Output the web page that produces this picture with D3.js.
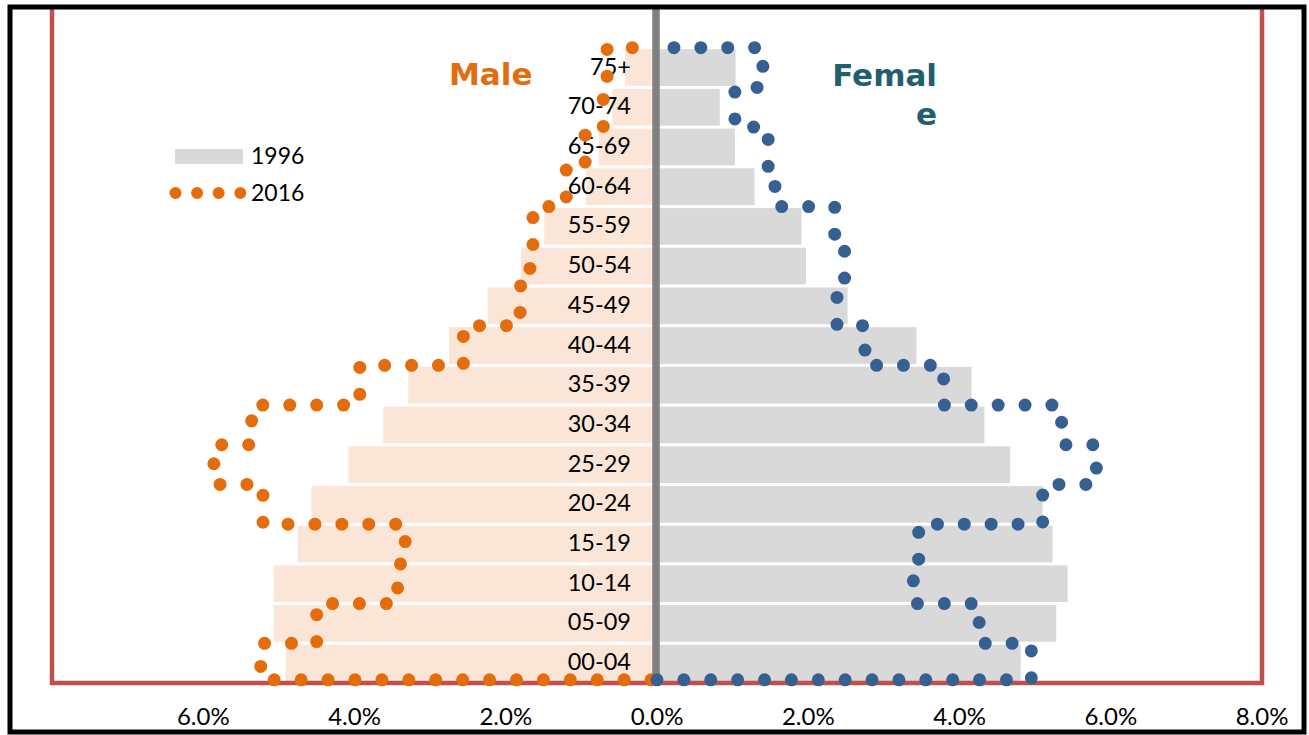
<!DOCTYPE html>
<html>
<head>
<meta charset="utf-8">
<script src="https://cdn.jsdelivr.net/npm/d3@7"></script>
<style>
  body { margin: 0; background: #fff; }
  svg { display: block; }
</style>
</head>
<body>
<svg id="chart" width="1309" height="735"></svg>
<script>
// Age groups, youngest at the bottom
const ageGroups = ["00-04", "05-09", "10-14", "15-19", "20-24", "25-29", "30-34", "35-39",
                   "40-44", "45-49", "50-54", "55-59", "60-64", "65-69", "70-74", "75+"];

// Share of total population (%), 1996 (bars)
const male1996   = [4.91, 5.07, 5.07, 4.75, 4.57, 4.08, 3.62, 3.29, 2.75, 2.24, 1.80, 1.49, 0.94, 0.77, 0.59, 0.42];
const female1996 = [4.81, 5.28, 5.43, 5.23, 5.10, 4.67, 4.33, 4.16, 3.43, 2.52, 1.97, 1.91, 1.29, 1.03, 0.83, 1.04];

// Share of total population (%), 2016 (dotted outlines)
const male2016   = [5.24, 4.50, 3.43, 3.33, 5.21, 5.86, 5.36, 3.93, 2.56, 1.81, 1.68, 1.64, 1.20, 0.95, 0.71, 0.66];
const female2016 = [4.95, 4.26, 3.39, 3.46, 5.10, 5.81, 5.35, 3.79, 2.75, 2.38, 2.48, 2.35, 1.56, 1.47, 1.03, 1.40];

const xTickValues = [-6, -4, -2, 0, 2, 4, 6, 8];
const legendYears = ["1996", "2016"];

const colors = {
  maleBar: "#FBE5D6",
  femaleBar: "#D9D9D9",
  maleLine: "#E46C0A",
  femaleLine: "#376092",
  maleTitle: "#E46C0A",
  femaleTitle: "#215F6E",
  plotBorder: "#C0504D",
  centre: "#808080"
};

const svg = d3.select("#chart");

const x = d3.scaleLinear().domain([-8, 8]).range([52, 1262]);
const y = d3.scaleLinear().domain([0, 17]).range([683, 8]);
const labelFont = "Lato, 'Liberation Sans', sans-serif";

// 1996 bars
const barPad = 1.5;
svg.append("g").selectAll("rect")
  .data(male1996).join("rect")
  .attr("x", d => x(-d)).attr("width", d => x(0) - x(-d))
  .attr("y", (d, i) => y(i + 1) + barPad)
  .attr("height", (d, i) => y(i) - y(i + 1) - 2 * barPad)
  .attr("fill", colors.maleBar);

svg.append("g").selectAll("rect")
  .data(female1996).join("rect")
  .attr("x", x(0)).attr("width", d => x(d) - x(0))
  .attr("y", (d, i) => y(i + 1) + barPad)
  .attr("height", (d, i) => y(i) - y(i + 1) - 2 * barPad)
  .attr("fill", colors.femaleBar);

// Plot area border: left, bottom and right sides
svg.append("path")
  .attr("d", d3.line()([[x(-8), y(17)], [x(-8), y(0)], [x(8), y(0)], [x(8), y(17)]]))
  .attr("fill", "none").attr("stroke", colors.plotBorder).attr("stroke-width", 4.5)
  .attr("stroke-linejoin", "miter");

// Centre divider
svg.append("line")
  .attr("x1", x(0) - 1).attr("x2", x(0) - 1)
  .attr("y1", y(17)).attr("y2", y(0))
  .attr("stroke", colors.centre).attr("stroke-width", 7.5);

// Age group labels
svg.append("g").selectAll("text")
  .data(ageGroups).join("text")
  .attr("x", 631)
  .attr("y", (d, i) => y(i + 0.5) + 7)
  .attr("text-anchor", "end")
  .attr("font-family", labelFont)
  .attr("font-size", 23.5)
  .attr("fill", "#000")
  .text(d => d);

// 2016 stepped outlines, drawn as round dots
const base = 0.08;
function stepPoints(values, sign) {
  const pts = [[0, base], [sign * values[0], base]];
  values.forEach((v, i) => {
    pts.push([sign * v, i + 1]);
    if (i + 1 < values.length) pts.push([sign * values[i + 1], i + 1]);
  });
  pts.push([0, values.length]);
  return pts;
}
const line = d3.line().x(d => x(d[0])).y(d => y(d[1]));
const dotStyle = (sel, gap, offset) => sel
  .attr("fill", "none")
  .attr("stroke-width", 13)
  .attr("stroke-linecap", "round")
  .attr("stroke-linejoin", "round")
  .attr("stroke-dasharray", `0 ${gap}`)
  .attr("stroke-dashoffset", offset);

svg.append("path").attr("d", line(stepPoints(male2016, -1)))
  .attr("stroke", colors.maleLine).call(dotStyle, 26.92, 21);
svg.append("path").attr("d", line(stepPoints(female2016, 1)))
  .attr("stroke", colors.femaleLine).call(dotStyle, 26.88, 0);

// X axis tick labels
svg.append("g").selectAll("text")
  .data(xTickValues).join("text")
  .attr("x", d => x(d))
  .attr("y", 725)
  .attr("text-anchor", "middle")
  .attr("font-family", labelFont)
  .attr("font-size", 24)
  .attr("fill", "#000")
  .text(d => Math.abs(d).toFixed(1) + "%");

// Titles
const titleFont = "'DejaVu Sans', Verdana, sans-serif";
svg.append("text")
  .attr("x", 449).attr("y", 85)
  .attr("font-family", titleFont).attr("font-weight", "bold").attr("font-size", 31)
  .attr("fill", colors.maleTitle).text("Male");
const femaleTitle = svg.append("text")
  .attr("font-family", titleFont).attr("font-weight", "bold").attr("font-size", 31)
  .attr("fill", colors.femaleTitle).attr("text-anchor", "end");
femaleTitle.append("tspan").attr("x", 937).attr("y", 86).text("Femal");
femaleTitle.append("tspan").attr("x", 937).attr("y", 125).text("e");

// Legend
const legend = svg.append("g");
legend.append("rect")
  .attr("x", 175).attr("y", 149).attr("width", 68).attr("height", 15)
  .attr("fill", colors.femaleBar);
legend.append("path")
  .attr("d", d3.line()([[175.5, 193], [241, 193]]))
  .attr("stroke", colors.maleLine)
  .attr("fill", "none").attr("stroke-width", 12)
  .attr("stroke-linecap", "round").attr("stroke-dasharray", "0 21.6");
legend.selectAll("text")
  .data(legendYears).join("text")
  .attr("x", 251)
  .attr("y", (d, i) => 164 + i * 37)
  .attr("font-family", labelFont).attr("font-size", 23)
  .attr("fill", "#000")
  .text(d => d);

// Outer frame
svg.append("rect")
  .attr("x", 10).attr("y", 7).attr("width", 1294).attr("height", 725)
  .attr("fill", "none").attr("stroke", "#000").attr("stroke-width", 5);
</script>
</body>
</html>
